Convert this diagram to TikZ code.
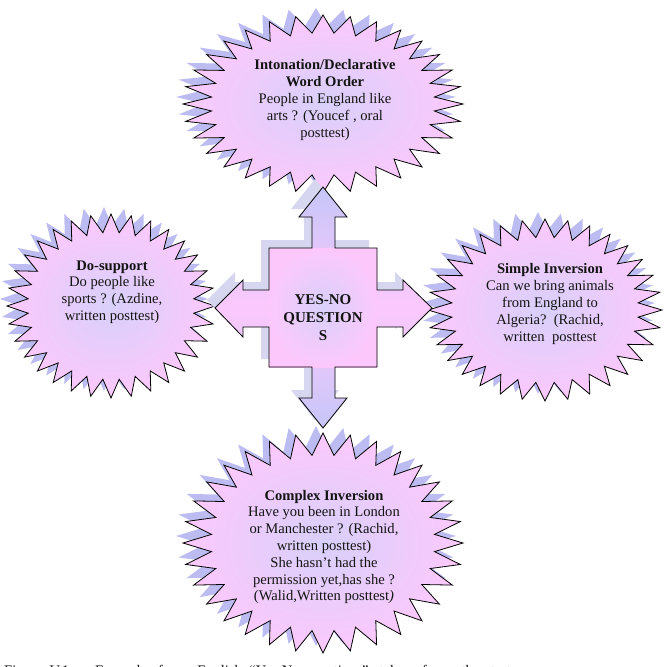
\documentclass[tikz,border=0pt]{standalone}
\usepackage{fontspec}
\setmainfont{Liberation Serif}
\definecolor{pinkf}{HTML}{FCC8FC}
\definecolor{lavf}{HTML}{D8D0FA}
\definecolor{lavq}{HTML}{C6C6F8}
\definecolor{shad}{HTML}{BCBCF2}
\definecolor{qshad}{HTML}{D6D6F0}
\definecolor{txt}{HTML}{141414}
\newcommand\burstpath[4]{plot[domain=0:63,samples=64,variable=\k]
  ({#1+#3*(1-0.2*mod(round(\k),2))*cos(90+\k*5.625)},
   {#2+#4*(1-0.2*mod(round(\k),2))*sin(90+\k*5.625)}) -- cycle}
\newcommand\quadpath{(323,187) -- (347,217) -- (335,217) -- (335,248) -- (377,248)
  -- (377,290) -- (403,290) -- (403,280) -- (432,308) -- (403,337) -- (403,327)
  -- (377,327) -- (377,367) -- (335,367) -- (335,398) -- (347,398) -- (323,428)
  -- (299,398) -- (312,398) -- (312,367) -- (269,367) -- (269,327) -- (243,327)
  -- (243,337) -- (215,308) -- (243,280) -- (243,290) -- (269,290) -- (269,248)
  -- (312,248) -- (312,217) -- (299,217) -- cycle}
\newcommand\starburst[4]{%
  \fill[shad] \burstpath{#1-7}{#2-7}{#3}{#4};
  \shadedraw[inner color=lavf, outer color=pinkf, draw=black, line width=0.8pt]
    \burstpath{#1}{#2}{#3}{#4};}
\tikzset{
  lbl/.style={align=center, text=txt, inner sep=0pt,
    font=\fontsize{14.6}{16.8}\selectfont},
  ctr/.style={align=center, text=txt, inner sep=0pt,
    font=\fontsize{15}{18}\selectfont\bfseries},
}
\begin{document}
\begin{tikzpicture}[x=1pt,y=-1pt]
\useasboundingbox (0,0) rectangle (667,667);
\fill[white] (0,0) rectangle (667,667);
% stars
\starburst{323}{104}{140}{89}
\starburst{111}{306}{104}{92}
\starburst{545}{310}{117}{91}
\starburst{323}{543}{140}{110}
% central quad arrow
\fill[qshad, shift={(-8,-8)}] \quadpath;
\shade[top color=lavq, bottom color=lavq, middle color=pinkf] \quadpath;
\begin{scope}
  \clip (269,248) rectangle (377,367);
  \shade[inner color=lavf, outer color=pinkf] (269,248) rectangle (377,367);
\end{scope}
\draw[black, line width=0.8pt, line join=miter] \quadpath;
% texts
\node[ctr] (center) at (323,318) {YES-NO\\QUESTION\\S};
\node[lbl] (top) at (325,100) {\textbf{Intonation/Declarative}\\\textbf{Word Order}\\People in England like\\arts ? (Youcef , oral\\posttest)};
\node[lbl] (left) at (112,292) {\textbf{Do-support}\\Do people like\\sports ? (Azdine,\\written posttest)};
\node[lbl] (right) at (550,304) {\textbf{Simple Inversion}\\Can we bring animals\\from England to\\Algeria?\ \ (Rachid,\\written\ \ posttest};
\node[lbl] (bottom) at (324,547) {\textbf{Complex Inversion}\\Have you been in London\\or Manchester ? (Rachid,\\written posttest)\\She hasn't had the\\permission yet,has she ?\\(Walid,Written posttest\textit{)}};
\node[anchor=base west, inner sep=0pt, text=txt, font=\fontsize{14.6}{16.8}\selectfont] (caption) at (4,675.5) {Figure\ \ V.1\ \ :\ \ \ \ Example\ \ \ from\ \ \ English\ \ ``Yes-No\ \ questions''\ \ \ taken\ \ \ from\ \ \ the\ \ \ tests};
\end{tikzpicture}
\end{document}
